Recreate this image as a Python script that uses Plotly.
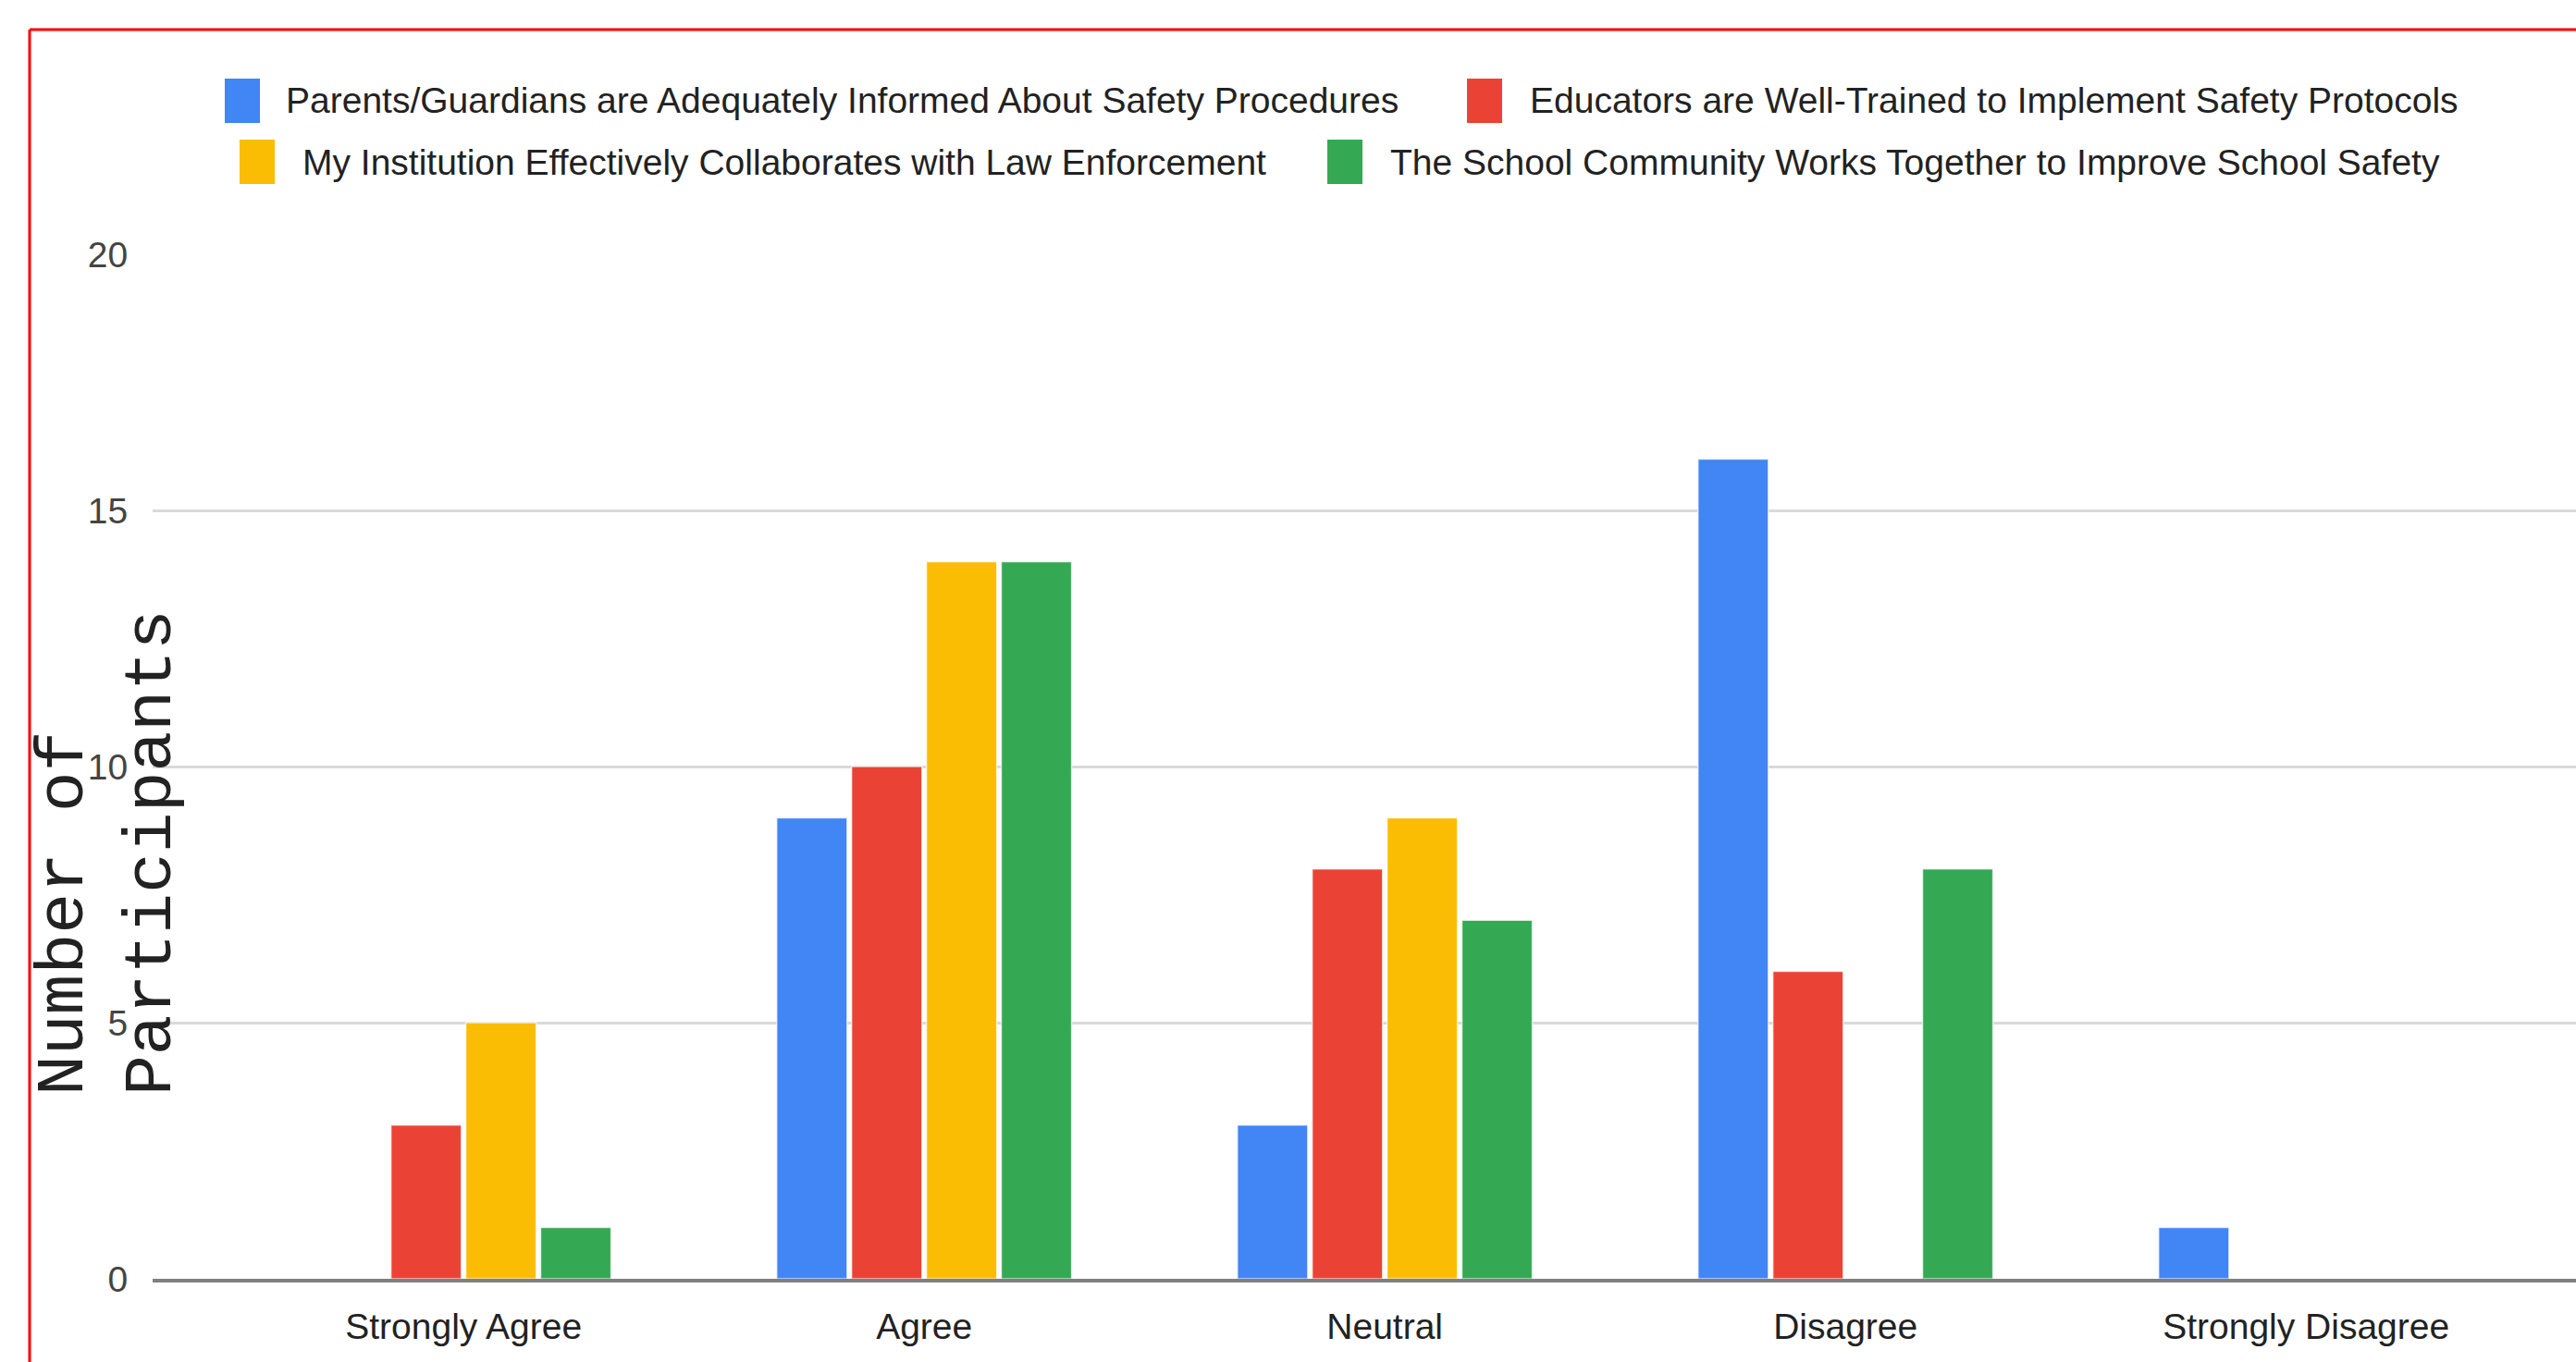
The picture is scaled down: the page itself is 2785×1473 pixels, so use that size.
import plotly.graph_objects as go

categories = ["Strongly Agree", "Agree", "Neutral", "Disagree", "Strongly Disagree"]
series_names = [
    "Parents/Guardians are Adequately Informed About Safety Procedures",
    "Educators are Well-Trained to Implement Safety Protocols",
    "My Institution Effectively Collaborates with Law Enforcement",
    "The School Community Works Together to Improve School Safety",
]
parents_informed = [0, 9, 3, 16, 1]
educators_trained = [3, 10, 8, 6, 0]
institution_collab = [5, 14, 9, 0, 0]
community_together = [1, 14, 7, 8, 0]
series_values = [parents_informed, educators_trained, institution_collab, community_together]
colors = ["#4285F4", "#EA4335", "#FBBC04", "#34A853"]
y_ticks = [0, 5, 10, 15, 20]

W, H = 2785, 1473
PX_L, PX_R, PX_T, PX_B = 165, 2785, 275, 1383

def px(x):
    return x / W

def py(y):
    return 1 - y / H

fig = go.Figure()
for name, vals, c in zip(series_names, series_values, colors):
    fig.add_trace(go.Bar(
        x=categories, y=vals, name=name,
        marker=dict(color=c, line=dict(color="rgba(255,255,255,0.7)", width=1.5)),
        showlegend=False,
    ))

# manual legend (swatch + label), two rows like the reference
legend_layout = [
    (243, 85, 307),   # row 1, item 1
    (1586, 85, 1652), # row 1, item 2
    (259, 151, 325),  # row 2, item 3
    (1435, 151, 1501) # row 2, item 4
]
shapes = []
annotations = []
for (sx, sy, tx), name, c in zip(legend_layout, series_names, colors):
    shapes.append(dict(type="rect", xref="paper", yref="paper",
                       x0=px(sx), x1=px(sx + 38), y0=py(sy), y1=py(sy + 48),
                       fillcolor=c, line=dict(width=0), layer="above"))
    annotations.append(dict(xref="paper", yref="paper", x=px(tx), y=py(sy + 24),
                            xanchor="left", yanchor="middle", showarrow=False,
                            text=name, font=dict(family="Liberation Sans, Arial, sans-serif",
                                                 size=39, color="#222222")))

# y-axis title
annotations.append(dict(xref="paper", yref="paper", x=px(117), y=py(922),
                        xanchor="center", yanchor="middle", showarrow=False,
                        textangle=-90, align="left", text="Number of<br>Participants",
                        font=dict(family="Liberation Mono, Courier New, monospace",
                                  size=73, color="#222222")))

# red outer frame (only top and left visible, like the cropped reference)
shapes.append(dict(type="line", xref="paper", yref="paper",
                   x0=px(32), x1=1.0, y0=py(32), y1=py(32),
                   line=dict(color="#FF0000", width=3)))
shapes.append(dict(type="line", xref="paper", yref="paper",
                   x0=px(32), x1=px(32), y0=py(32), y1=0.0,
                   line=dict(color="#FF0000", width=3)))

fig.update_layout(
    width=W, height=H, autosize=False,
    margin=dict(l=0, r=0, t=0, b=0, pad=0, autoexpand=False),
    paper_bgcolor="white", plot_bgcolor="white",
    barmode="group", bargap=0.35, bargroupgap=0.06,
    font=dict(family="Liberation Sans, Arial, sans-serif", size=39, color="#222222"),
    xaxis=dict(domain=[px(PX_L), px(PX_R)], range=[-0.675, 4.586], automargin=False,
               showgrid=False, showline=True, linecolor="#808080", linewidth=4,
               ticks="outside", ticklen=14, tickcolor="rgba(0,0,0,0)",
               tickfont=dict(size=39, color="#222222")),
    yaxis=dict(domain=[py(PX_B), py(PX_T)], range=[0, 20], tickvals=y_ticks, automargin=False,
               showgrid=True, gridcolor="#d9d9d9", gridwidth=3, zeroline=False,
               ticks="outside", ticklen=18, tickcolor="rgba(0,0,0,0)",
               tickfont=dict(size=39, color="#444444")),
    shapes=shapes, annotations=annotations,
)

fig.write_html("out.html", config={"displayModeBar": False},
               post_script="document.body.style.margin='0';document.body.style.overflow='hidden';")
